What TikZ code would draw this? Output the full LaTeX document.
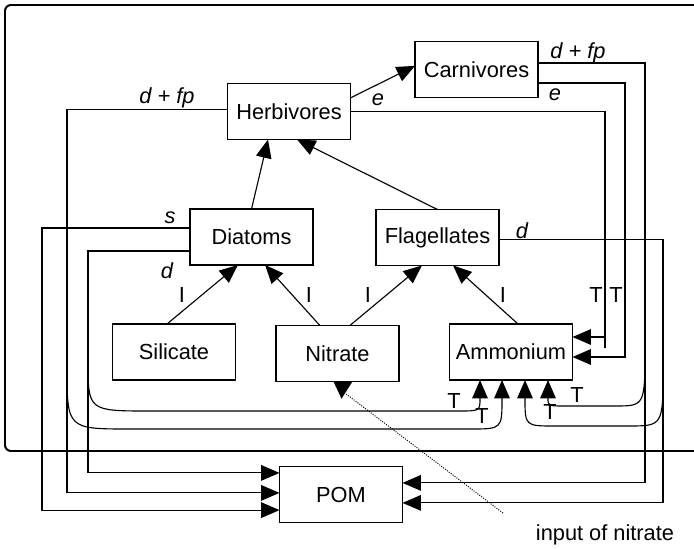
\documentclass[tikz,border=0pt]{standalone}
\usepackage{fontspec}
\setmainfont{Liberation Sans}
\usepackage{tikz}
\usetikzlibrary{arrows.meta, calc}

\tikzset{
  box/.style={draw, line width=0.8pt, minimum width=3.075cm, minimum height=1.4cm,
    inner sep=0pt, outer sep=0pt, font=\fontsize{15.5pt}{18pt}\selectfont},
  flow/.style={->, line width=0.8pt},
  lbl/.style={inner sep=0pt, font=\fontsize{15.5pt}{18pt}\selectfont},
  rate/.style={lbl, font=\fontsize{15.5pt}{18pt}\selectfont\itshape}
}

\begin{document}
\begin{tikzpicture}[>={Triangle[length=0.46cm, width=0.39cm]}]

\useasboundingbox (0,0) rectangle (17.35,13.7);

% ============================================================
% ZONA EUFOTICA (marco abierto a la derecha)
% ============================================================
\draw[line width=1.4pt, rounded corners=0.15cm]
    (17.6, 13.575) -- (0.125, 13.575) -- (0.125, 2.425) -- (17.6, 2.425);

% ============================================================
% COMPARTIMENTOS
% ============================================================
\node[box] (Carnivores)  at (11.9125, 11.9625) {Carnivores};
\node[box] (Herbivores)  at (7.225, 10.9125)   {Herbivores};
\node[box] (Diatoms)     at (6.2875, 7.775)    {Diatoms};
\node[box] (Flagellates) at (10.9375, 7.7625)  {Flagellates};
\node[box] (Silicate)    at (4.35, 4.9)        {Silicate};
\node[box] (Nitrate)     at (8.4375, 4.8625)   {Nitrate};
\node[box] (Ammonium)    at (12.775, 4.9)      {Ammonium};
\node[box] (POM)         at (8.525, 1.3375)    {POM};

% ============================================================
% PASTOREO Y CAPTACION
% ============================================================
\draw[flow] ($(Herbivores.east)+(0,0.34)$) -- ($(Carnivores.west)+(0,0.09)$);
\draw[flow] (Diatoms.north) -- ($(Herbivores.south)+(-0.525,0)$);
\draw[flow] (Flagellates.north) -- ($(Herbivores.south)+(0.2,0)$);

\draw[flow] ($(Silicate.north)+(-0.175,0)$) -- ($(Diatoms.south)+(-0.34,0)$);
\draw[flow] ($(Nitrate.north)+(-0.44,0)$) -- ($(Diatoms.south)+(0.34,0)$);
\draw[flow] ($(Nitrate.north)+(0.31,0)$) -- ($(Flagellates.south)+(-0.39,0)$);
\draw[flow] ($(Ammonium.north)+(0.175,0)$) -- ($(Flagellates.south)+(0.39,0)$);

% Etiquetas de captacion
\node[lbl] (lbl-i1) at (4.55, 6.325)  {I};
\node[lbl] (lbl-i2) at (7.725, 6.325) {I};
\node[lbl] (lbl-i3) at (9.2, 6.325)   {I};
\node[lbl] (lbl-i4) at (12.575, 6.325) {I};

% ============================================================
% PERDIDAS HACIA POM (izquierda y derecha)
% ============================================================
\draw[flow] ($(Diatoms.west)+(0,0.225)$) -| (1.05,2) |- ($(POM.west)+(0,-0.39)$);
\draw[flow] ($(Herbivores.west)+(0,0.06)$) -| (1.675,2) |- ($(POM.west)+(0,0.04)$);
\draw[flow] ($(Diatoms.west)+(0,-0.35)$) -| (2.2,2) |- ($(POM.west)+(0,0.54)$);

\draw[flow] ($(Carnivores.east)+(0,0.1625)$) -| (16.125,2) |- ($(POM.east)+(0,0.29)$);
\draw[flow] ($(Flagellates.east)+(0,-0.06)$) -| (16.575,2) |- ($(POM.east)+(0,-0.21)$);

\node[rate] (lbl-s)     at (4.25, 8.25)    {s};
\node[rate] (lbl-dd)    at (4.175, 6.925)  {d};
\node[rate] (lbl-dfp-h) at (4.175, 11.25)  {d + fp};
\node[rate] (lbl-dfp-c) at (14.45, 12.375) {d + fp};
\node[rate] (lbl-df)    at (13.05, 7.925)  {d};

% ============================================================
% EXCRECION HACIA AMONIO
% ============================================================
\draw[flow] (Herbivores.east) -| (15.125,5) |- ($(Ammonium.east)+(0,0.375)$);
\draw[flow] ($(Carnivores.east)+(0,-0.3375)$) -| (15.625,5) |- ($(Ammonium.east)+(0,-0.125)$);

\node[rate] (lbl-eh) at (9.45, 11.2)    {e};
\node[rate] (lbl-ec) at (13.875, 11.325) {e};
\node[lbl] (lbl-t5) at (14.9, 6.325) {T};
\node[lbl] (lbl-t6) at (15.4, 6.325) {T};

% --- Remineralizacion (curvas por debajo) ---
\draw[flow] (2.2, 4.7) .. controls (2.2, 3.425) .. (3.75, 3.425)
    -- (11.45, 3.425) .. controls (12.0, 3.425) .. ($(Ammonium.south)+(-0.775,0)$);
\draw[flow] (1.675, 4.55) .. controls (1.675, 2.975) .. (3.25, 2.975)
    -- (11.75, 2.975) .. controls (12.55, 2.975) .. ($(Ammonium.south)+(-0.225,0)$);
\draw[flow] (16.575, 4.5) .. controls (16.575, 3.05) .. (15.7, 3.05)
    -- (13.875, 3.05) .. controls (13.125, 3.05) .. ($(Ammonium.south)+(0.35,0)$);
\draw[flow] (16.125, 5.075) .. controls (16.125, 3.55) .. (15.375, 3.55)
    -- (14.125, 3.55) .. controls (13.7, 3.55) .. ($(Ammonium.south)+(0.925,0)$);

\node[lbl] (lbl-t1) at (11.35, 3.675)  {T};
\node[lbl] (lbl-t2) at (12.05, 3.3)    {T};
\node[lbl] (lbl-t3) at (13.75, 3.4)    {T};
\node[lbl] (lbl-t4) at (14.425, 3.825) {T};

% ============================================================
% APORTE DE NITRATO
% ============================================================
\coordinate (nin) at (12.575, 0.875);
\draw[densely dotted, line width=0.7pt] (nin) -- ($(Nitrate.south)+(0.2,-0.3)$);
\fill ($(Nitrate.south)+(-0.1,0)$) -- ($(Nitrate.south)+(0.375,0)$)
    -- ($(Nitrate.south)+(0.1,-0.43)$) -- cycle;
\node[lbl] (lbl-input) at (15.125, 0.325) {input of nitrate};

\end{tikzpicture}
\end{document}
